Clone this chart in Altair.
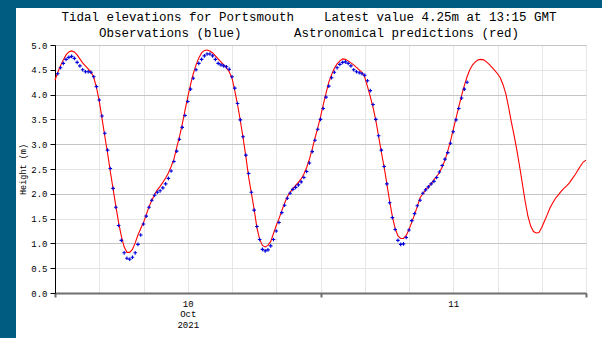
import altair as alt
import pandas as pd

# Astronomical predictions (m), every 15 min from 2021-10-09 12:00 UTC
pred_h = [
    4.29, 4.45, 4.58, 4.70,  4.80, 4.86, 4.88, 4.86,  4.80, 4.72, 4.64, 4.58,
    4.52, 4.46, 4.35, 4.14,  3.87, 3.52, 3.16, 2.82,  2.45, 2.10, 1.75, 1.42,
    1.14, 0.93, 0.82, 0.82,  0.88, 1.01, 1.17, 1.30,  1.42, 1.58, 1.74, 1.87,
    1.98, 2.08, 2.15, 2.23,  2.32, 2.42, 2.55, 2.70,  2.93, 3.15, 3.40, 3.68,
    3.95, 4.20, 4.42, 4.60,  4.74, 4.84, 4.89, 4.90,  4.88, 4.84, 4.78, 4.72,
    4.66, 4.60, 4.54, 4.46,  4.33, 4.08, 3.80, 3.48,  3.13, 2.76, 2.34, 2.02,
    1.69, 1.32, 1.08, 0.96,  0.93, 0.96, 1.04, 1.20,  1.36, 1.50, 1.66, 1.81,
    1.94, 2.03, 2.10, 2.17,  2.23, 2.30, 2.40, 2.53,  2.70, 2.90, 3.12, 3.33,
    3.55, 3.80, 4.03, 4.25,  4.40, 4.53, 4.62, 4.68,  4.72, 4.71, 4.68, 4.64,
    4.60, 4.55, 4.50, 4.45,  4.35, 4.16, 3.96, 3.74,  3.48, 3.16, 2.84, 2.54,
    2.20, 1.85, 1.54, 1.30,  1.15, 1.10, 1.10, 1.16,  1.28, 1.43, 1.58, 1.74,
    1.92, 2.00, 2.08, 2.14,  2.20, 2.28, 2.35, 2.43,  2.54, 2.68, 2.86, 3.06,
    3.30, 3.52, 3.76, 3.98,  4.18, 4.36, 4.50, 4.60,  4.66, 4.70, 4.71, 4.70,
    4.66, 4.61, 4.55, 4.49,  4.42, 4.34, 4.20, 4.02,  3.75, 3.45, 3.18, 2.88,
    2.55, 2.20, 1.85, 1.55,  1.35, 1.24, 1.21, 1.22,  1.32, 1.45, 1.58, 1.72,
    1.82, 1.91, 1.98, 2.05,  2.11, 2.16, 2.22, 2.30,  2.38, 2.47, 2.56, 2.64,
    2.68,
]

# Observations (m), every 15 min from 2021-10-09 12:15 UTC
obs_h = [
    4.42, 4.54, 4.63, 4.71,  4.75, 4.77, 4.73, 4.65,  4.58, 4.50, 4.46, 4.46,
    4.45, 4.36, 4.16, 3.89,  3.57, 3.22, 2.88, 2.51,  2.11, 1.73, 1.36, 1.06,
    0.81, 0.70, 0.68, 0.72,  0.81, 0.98, 1.17, 1.39,  1.55, 1.73, 1.87, 1.97,
    2.03, 2.06, 2.12, 2.20,  2.31, 2.46, 2.65, 2.86,  3.10, 3.34, 3.58, 3.86,
    4.11, 4.33, 4.50, 4.63,  4.71, 4.78, 4.82, 4.82,  4.78, 4.71, 4.63, 4.60,
    4.58, 4.56, 4.51, 4.36,  4.13, 3.82, 3.49, 3.15,  2.78, 2.41, 2.03, 1.67,
    1.34, 1.08, 0.88, 0.85,  0.87, 0.95, 1.08, 1.25,  1.42, 1.62, 1.77, 1.91,
    2.01, 2.09, 2.13, 2.18,  2.24, 2.33, 2.45, 2.62,  2.85, 3.08, 3.30, 3.50,
    3.72, 3.95, 4.17, 4.34,  4.45, 4.54, 4.61, 4.65,  4.66, 4.63, 4.58, 4.50,
    4.46, 4.44, 4.42, 4.39,  4.28, 4.08, 3.80, 3.50,  3.17, 2.88, 2.55, 2.20,
    1.82, 1.52, 1.28, 1.06,  0.98, 0.99, 1.12, 1.27,  1.46, 1.60, 1.76, 1.87,
    2.01, 2.08, 2.14, 2.20,  2.25, 2.33, 2.44, 2.57,  2.70, 2.83, 3.02, 3.25,
    3.49, 3.72, 3.93, 4.11,  4.25,
]

title_lines = [
    "Tidal elevations for Portsmouth\u00a0\u00a0\u00a0\u00a0Latest value 4.25m at 13:15 GMT",
    "Observations (blue)\u00a0\u00a0\u00a0\u00a0\u00a0\u00a0\u00a0Astronomical predictions (red)",
]
y_ticks = [0.0, 0.5, 1.0, 1.5, 2.0, 2.5, 3.0, 3.5, 4.0, 4.5, 5.0]

FMT = "%Y-%m-%dT%H:%M:%SZ"
pred_t = pd.date_range("2021-10-09 12:00", periods=len(pred_h), freq="15min").strftime(FMT)
obs_t = pd.date_range("2021-10-09 12:15", periods=len(obs_h), freq="15min").strftime(FMT)

df = pd.concat([
    pd.DataFrame({"time": list(pred_t), "height": pred_h, "series": "pred"}),
    pd.DataFrame({"time": list(obs_t), "height": obs_h, "series": "obs"}),
], ignore_index=True)

x_grid = [alt.DateTime(year=2021, month=10, date=9 + (12 + 4 * i) // 24,
                       hours=(12 + 4 * i) % 24, utc=True) for i in range(13)]
x_dom = [x_grid[0], x_grid[-1]]

MONO = "Liberation Mono"
W, H = 531, 248
TEAL = "#005c80"

x_enc = alt.X(
    "time:T",
    title=None,
    scale=alt.Scale(type="utc", domain=x_dom),
    axis=alt.Axis(
        values=x_grid,
        labelExpr=("utcFormat(datum.value,'%H')=='00' ? (utcFormat(datum.value,'%d')=='10' ? "
                   "[utcFormat(datum.value,'%d'), utcFormat(datum.value,'%b'), utcFormat(datum.value,'%Y')]"
                   " : utcFormat(datum.value,'%d')) : ''"),
        labelFont=MONO, labelFontSize=9, labelColor="black", labelLineHeight=10.5,
        labelPadding=2, labelFlush=False, labelOverlap=False, labelAngle=0,
        tickSize=4, tickWidth=2,
        tickColor={"condition": {"test": "utcFormat(datum.value,'%H')=='12'", "value": "#6e6e6e"},
                   "value": "rgba(0,0,0,0)"},
        domainColor="#6e6e6e", domainWidth=2,
        grid=True, gridColor="#e6e6e6", gridWidth=1,
    ),
)
y_enc = alt.Y(
    "height:Q",
    title="Height (m)",
    scale=alt.Scale(domain=[0, 5], nice=False, zero=True),
    axis=alt.Axis(
        values=y_ticks, format=".1f",
        labelFont=MONO, labelFontSize=9, labelColor="black", labelPadding=3,
        tickColor="black", tickSize=5, tickWidth=1,
        domainColor="black", domainWidth=1,
        grid=True, gridWidth=1,
        gridColor={"condition": {"test": "datum.value % 1 === 0", "value": "#c4c4c4"},
                   "value": "#e4e4e4"},
        titleFont=MONO, titleFontSize=8.5, titleFontWeight="normal", titleColor="black",
        titlePadding=3,
    ),
)

base = alt.Chart(df).encode(x=x_enc, y=y_enc)

pred_line = base.transform_filter("datum.series == 'pred'").mark_line(
    color="#ff0000", strokeWidth=1.1)
obs_pts = base.transform_filter("datum.series == 'obs'").mark_point(
    shape="M-1,0L1,0M0,-1L0,1", size=13, color="#0000dd", strokeWidth=1.1,
    filled=False, opacity=1)

frame = alt.Data(values=[{}])
left_strip = alt.Chart(frame).mark_rect(color=TEAL).encode(
    x=alt.value(-55), x2=alt.value(-39), y=alt.value(-45), y2=alt.value(H + 45))
top_strip = alt.Chart(frame).mark_rect(color=TEAL).encode(
    x=alt.value(-55), x2=alt.value(W + 16), y=alt.value(-45), y2=alt.value(-37))

title1 = alt.Chart(alt.Data(values=[{"t": title_lines[0]}])).mark_text(
    font=MONO, fontSize=12.5, color="black", align="center", baseline="middle").encode(
    text="t:N", x=alt.value(W / 2 - 11.5), y=alt.value(-28))
title2 = alt.Chart(alt.Data(values=[{"t": title_lines[1]}])).mark_text(
    font=MONO, fontSize=12.5, color="black", align="center", baseline="middle").encode(
    text="t:N", x=alt.value(W / 2 - 11.5), y=alt.value(-12.5))

chart = alt.layer(pred_line, obs_pts, left_strip, top_strip, title1, title2).properties(
    width=W, height=H,
    autosize=alt.AutoSizeParams(type="none"),
    padding={"left": 55, "top": 45, "right": 16, "bottom": 45},
    background="white",
).configure_view(stroke="#c0c0c0", strokeWidth=1, fill="white")

chart.save("out.html", embed_options={"renderer": "svg", "actions": False})
